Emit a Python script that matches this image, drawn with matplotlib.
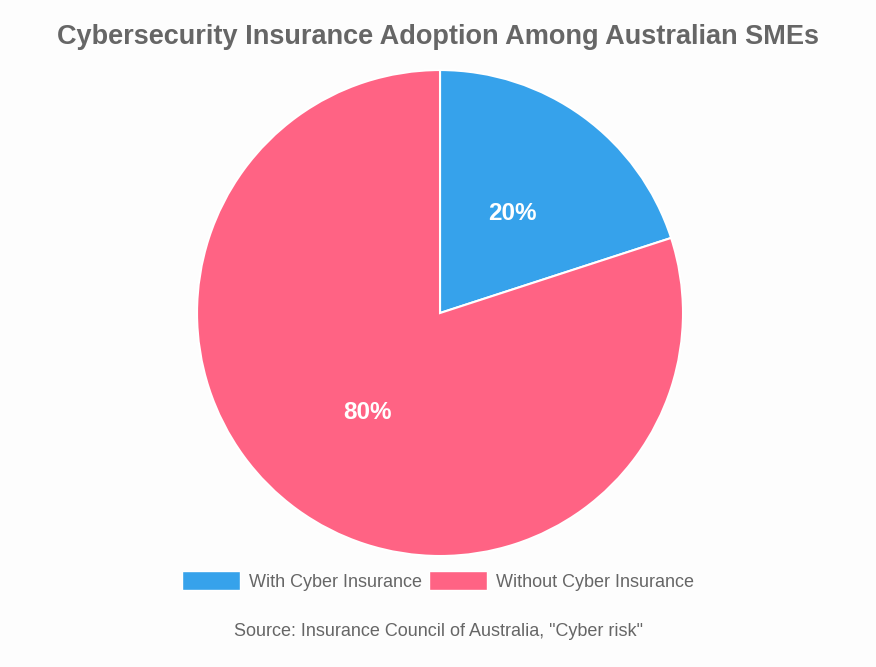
import matplotlib
matplotlib.use("Agg")
import matplotlib.pyplot as plt
from matplotlib.patches import Patch

labels = ["With Cyber Insurance", "Without Cyber Insurance"]
values = [20, 80]
colors = ["#36A2EB", "#FF6384"]

plt.rcParams['font.family'] = ['Liberation Sans', 'DejaVu Sans']

fig = plt.figure(figsize=(8.76, 6.67), dpi=100)
fig.patch.set_facecolor("#FDFDFD")

ax = fig.add_axes([0.2249, 0.1664, 0.5548, 0.7286])
wedges, texts, autotexts = ax.pie(
    values, colors=colors, startangle=90, counterclock=False,
    autopct="%d%%", pctdistance=0.505, radius=1.0,
    wedgeprops=dict(edgecolor="white", linewidth=1.5),
    textprops=dict(color="white", fontsize=17.5, fontweight="bold"),
)
ax.set_xlim(-1, 1)
ax.set_ylim(-1, 1)
ax.set_aspect("equal")

fig.text(0.5, 1 - 37 / 667, "Cybersecurity Insurance Adoption Among Australian SMEs",
         ha="center", va="center", fontsize=19.5, fontweight="bold", color="#666666")

handles = [Patch(facecolor=c, edgecolor="white", linewidth=1) for c in colors]
fig.legend(handles, labels, loc="center", bbox_to_anchor=(0.5, 1 - 581 / 667),
           ncol=2, frameon=False, fontsize=13, labelcolor="#666666",
           handlelength=3.2, handleheight=1.25, handletextpad=0.5, columnspacing=0.4)

fig.text(0.5, 1 - 632 / 667, 'Source: Insurance Council of Australia, "Cyber risk"',
         ha="center", va="center", fontsize=13, color="#666666")

plt.savefig("out.png", dpi=100, facecolor=fig.get_facecolor())
